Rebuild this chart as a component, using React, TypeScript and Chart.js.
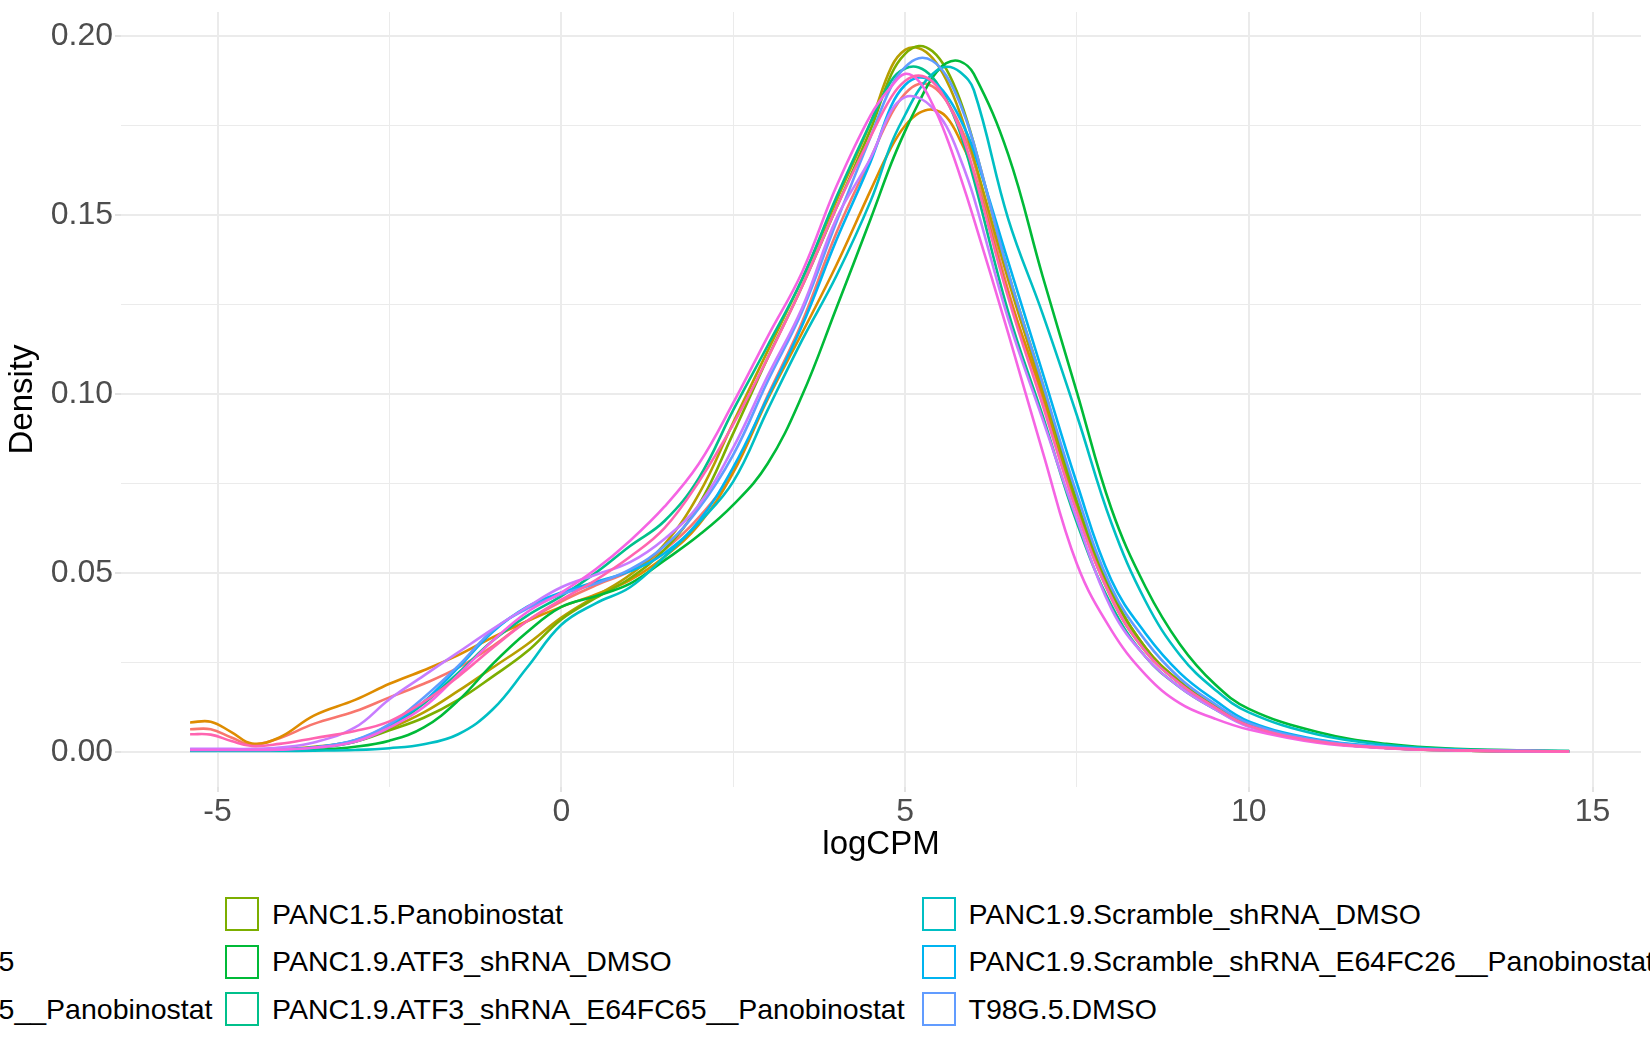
import React, { useEffect, useRef } from "react";
import { Chart, registerables } from "chart.js";

Chart.register(...registerables);

// ---- data ----
const XS = [
  -5.4, -5.1, -4.8, -4.5, -4.1, -3.6, -3.0, -2.5, -2.0, -1.5, -1.0, -0.5,
  0, 0.5, 1.0, 1.5, 2.0, 2.5, 3.0, 3.5, 4.0, 4.5,
  4.8, 5.0, 5.2, 5.4, 5.6, 5.8, 6.0,
  6.5, 7.0, 7.5, 8.0, 8.5, 9.0, 9.5, 10.0,
  11.0, 12.0, 13.0, 14.66,
];

const SERIES_NAMES = [
  "PANC1.5.DMSO",
  "PANC1.5.E64FC65",
  "PANC1.5.E64FC65__Panobinostat",
  "PANC1.5.Panobinostat",
  "PANC1.9.ATF3_shRNA_DMSO",
  "PANC1.9.ATF3_shRNA_E64FC65__Panobinostat",
  "PANC1.9.Scramble_shRNA_DMSO",
  "PANC1.9.Scramble_shRNA_E64FC26__Panobinostat",
  "T98G.5.DMSO",
  "T98G.5.E64FC65",
  "T98G.5.E64FC65__Panobinostat",
  "T98G.5.Panobinostat",
];

const SERIES_COLORS = [
  "#F8766D", "#DE8C00", "#B79F00", "#7CAE00", "#00BA38", "#00C08B",
  "#00BFC4", "#00B4F0", "#619CFF", "#C77CFF", "#F564E3", "#FF64B0",
];

const PANC1_5_DMSO = [
  0.0063, 0.0063, 0.0040, 0.0020, 0.0038, 0.0078, 0.0113, 0.0152, 0.0190, 0.0235, 0.0295, 0.0365,
  0.0420, 0.0465, 0.0505, 0.0565, 0.0655, 0.0785, 0.0995, 0.1200, 0.1450, 0.1660,
  0.1783, 0.1840, 0.1867, 0.1860, 0.1820, 0.1750, 0.1650,
  0.1290, 0.0990, 0.0680, 0.0445, 0.0290, 0.0195, 0.0128, 0.0075,
  0.0030, 0.0012, 0.0004, 0.0001,
];
const PANC1_5_E64FC65 = [
  0.0082, 0.0084, 0.0055, 0.0023, 0.0040, 0.0101, 0.0145, 0.0190, 0.0228, 0.0270, 0.0320, 0.0365,
  0.0405, 0.0440, 0.0480, 0.0545, 0.0635, 0.0780, 0.0985, 0.1170, 0.1360, 0.1570,
  0.1690, 0.1750, 0.1785, 0.1795, 0.1775, 0.1710, 0.1620,
  0.1280, 0.1000, 0.0690, 0.0450, 0.0290, 0.0195, 0.0128, 0.0075,
  0.0030, 0.0012, 0.0004, 0.0001,
];
const PANC1_5_E64FC65_PANO = [
  0.0005, 0.0005, 0.0005, 0.0005, 0.0007, 0.0014, 0.0030, 0.0065, 0.0110, 0.0170, 0.0235, 0.0300,
  0.0375, 0.0435, 0.0495, 0.0580, 0.0720, 0.0920, 0.1120, 0.1320, 0.1540, 0.1760,
  0.1914, 0.1962, 0.1967, 0.1939, 0.1878, 0.1785, 0.1660,
  0.1320, 0.1010, 0.0680, 0.0430, 0.0280, 0.0190, 0.0125, 0.0072,
  0.0028, 0.0011, 0.0004, 0.0001,
];
const PANC1_5_PANO = [
  0.0004, 0.0004, 0.0004, 0.0004, 0.0006, 0.0012, 0.0028, 0.0060, 0.0095, 0.0145, 0.0210, 0.0280,
  0.0370, 0.0430, 0.0485, 0.0565, 0.0690, 0.0890, 0.1100, 0.1300, 0.1520, 0.1740,
  0.1894, 0.1951, 0.1973, 0.1958, 0.1908, 0.1822, 0.1700,
  0.1340, 0.1030, 0.0700, 0.0450, 0.0290, 0.0195, 0.0128, 0.0074,
  0.0029, 0.0011, 0.0004, 0.0001,
];
const PANC1_9_ATF3_DMSO = [
  0.0003, 0.0003, 0.0003, 0.0003, 0.0003, 0.0005, 0.0014, 0.0031, 0.0068, 0.0143, 0.0245, 0.0334,
  0.0405, 0.0435, 0.0470, 0.0535, 0.0605, 0.0690, 0.0805, 0.0995, 0.1240, 0.1490,
  0.1645, 0.1735, 0.1815, 0.1885, 0.1925, 0.1930, 0.1895,
  0.1670, 0.1330, 0.1005, 0.0680, 0.0460, 0.0300, 0.0190, 0.0120,
  0.0055, 0.0022, 0.0008, 0.0002,
];
const PANC1_9_ATF3_E64_PANO = [
  0.0005, 0.0005, 0.0005, 0.0005, 0.0006, 0.0010, 0.0028, 0.0068, 0.0135, 0.0220, 0.0310, 0.0380,
  0.0435, 0.0500, 0.0575, 0.0645, 0.0765, 0.0955, 0.1135, 0.1320, 0.1550, 0.1760,
  0.1876, 0.1910, 0.1913, 0.1885, 0.1824, 0.1731, 0.1600,
  0.1230, 0.0940, 0.0640, 0.0410, 0.0265, 0.0180, 0.0120, 0.0072,
  0.0028, 0.0011, 0.0004, 0.0001,
];
const PANC1_9_SCR_DMSO = [
  0.0002, 0.0002, 0.0002, 0.0002, 0.0002, 0.0003, 0.0005, 0.0010, 0.0021, 0.0049, 0.0118, 0.0235,
  0.0355, 0.0415, 0.0460, 0.0545, 0.0640, 0.0755, 0.0955, 0.1150, 0.1330, 0.1540,
  0.1700, 0.1780, 0.1850, 0.1895, 0.1915, 0.1900, 0.1850,
  0.1490, 0.1225, 0.0940, 0.0640, 0.0420, 0.0270, 0.0175, 0.0110,
  0.0048, 0.0019, 0.0007, 0.0002,
];
const PANC1_9_SCR_E64_PANO = [
  0.0007, 0.0007, 0.0006, 0.0006, 0.0007, 0.0012, 0.0032, 0.0075, 0.0140, 0.0235, 0.0335, 0.0405,
  0.0445, 0.0475, 0.0505, 0.0555, 0.0645, 0.0795, 0.0990, 0.1190, 0.1430, 0.1650,
  0.1806, 0.1864, 0.1885, 0.1874, 0.1836, 0.1770, 0.1680,
  0.1370, 0.1060, 0.0750, 0.0480, 0.0330, 0.0220, 0.0145, 0.0085,
  0.0034, 0.0014, 0.0005, 0.0001,
];
const T98G_5_DMSO = [
  0.0007, 0.0007, 0.0006, 0.0006, 0.0007, 0.0012, 0.0033, 0.0077, 0.0152, 0.0240, 0.0339, 0.0400,
  0.0440, 0.0470, 0.0510, 0.0575, 0.0680, 0.0830, 0.1035, 0.1230, 0.1480, 0.1720,
  0.1860, 0.1914, 0.1939, 0.1931, 0.1890, 0.1812, 0.1700,
  0.1340, 0.1030, 0.0720, 0.0460, 0.0310, 0.0205, 0.0135, 0.0080,
  0.0032, 0.0013, 0.0005, 0.0001,
];
const T98G_5_E64FC65 = [
  0.0008, 0.0008, 0.0008, 0.0008, 0.0012, 0.0026, 0.0068, 0.0147, 0.0213, 0.0278, 0.0343, 0.0404,
  0.0460, 0.0495, 0.0530, 0.0595, 0.0690, 0.0850, 0.1050, 0.1240, 0.1490, 0.1660,
  0.1792, 0.1830, 0.1828, 0.1800, 0.1749, 0.1660, 0.1550,
  0.1210, 0.0930, 0.0650, 0.0400, 0.0265, 0.0180, 0.0120, 0.0070,
  0.0028, 0.0011, 0.0004, 0.0001,
];
const T98G_5_E64FC65_PANO = [
  0.0005, 0.0005, 0.0005, 0.0005, 0.0006, 0.0011, 0.0028, 0.0068, 0.0125, 0.0215, 0.0310, 0.0390,
  0.0445, 0.0510, 0.0590, 0.0685, 0.0805, 0.0975, 0.1160, 0.1340, 0.1580, 0.1780,
  0.1860, 0.1895, 0.1875, 0.1810, 0.1720, 0.1610, 0.1490,
  0.1170, 0.0840, 0.0525, 0.0340, 0.0215, 0.0135, 0.0093, 0.0062,
  0.0025, 0.0010, 0.0004, 0.0001,
];
const T98G_5_PANO = [
  0.0049, 0.0048, 0.0030, 0.0016, 0.0022, 0.0038, 0.0058, 0.0085, 0.0140, 0.0210, 0.0290, 0.0365,
  0.0425, 0.0480, 0.0545, 0.0625, 0.0755, 0.0915, 0.1100, 0.1300, 0.1520, 0.1720,
  0.1830, 0.1875, 0.1890, 0.1873, 0.1820, 0.1740, 0.1620,
  0.1270, 0.0970, 0.0670, 0.0430, 0.0280, 0.0190, 0.0125, 0.0073,
  0.0029, 0.0011, 0.0004, 0.0001,
];

const SERIES_VALUES = [
  PANC1_5_DMSO, PANC1_5_E64FC65, PANC1_5_E64FC65_PANO, PANC1_5_PANO,
  PANC1_9_ATF3_DMSO, PANC1_9_ATF3_E64_PANO, PANC1_9_SCR_DMSO, PANC1_9_SCR_E64_PANO,
  T98G_5_DMSO, T98G_5_E64FC65, T98G_5_E64FC65_PANO, T98G_5_PANO,
];

const X_MAJOR_TICKS = [-5, 0, 5, 10, 15];
const Y_MAJOR_TICKS = [0, 0.05, 0.1, 0.15, 0.2];

const FONT = '"Liberation Sans", Arial, Helvetica, sans-serif';

const near = (a: number, b: number) => Math.abs(a - b) < 1e-6;
const isXMajor = (v: number) => X_MAJOR_TICKS.some((t) => near(t, v));
const isYMajor = (v: number) => Y_MAJOR_TICKS.some((t) => near(t, v));

function ChartCanvas() {
  const ref = useRef<HTMLCanvasElement | null>(null);
  useEffect(() => {
    if (!ref.current) return;
    const chart = new Chart(ref.current, {
      type: "line",
      data: {
        datasets: SERIES_VALUES.map((vals, i) => ({
          label: SERIES_NAMES[i],
          data: XS.map((x, k) => ({ x, y: vals[k] })),
          borderColor: SERIES_COLORS[i],
          backgroundColor: SERIES_COLORS[i],
          borderWidth: 2.6,
          pointRadius: 0,
          fill: false,
          tension: 0.4,
          order: -i,
        })),
      },
      options: {
        animation: false,
        responsive: false,
        layout: { padding: { left: 0, right: 9, top: 12, bottom: 0 } },
        plugins: { legend: { display: false }, tooltip: { enabled: false } },
        scales: {
          x: {
            type: "linear",
            min: -6.405,
            max: 15.705,
            afterFit: (s: any) => {
              s.height = 93;
              s.paddingLeft = 0;
              s.paddingRight = 0;
            },
            border: { display: false },
            grid: {
              color: "#EBEBEB",
              lineWidth: (c: any) => (c.tick && isXMajor(c.tick.value) ? 2 : 1),
              tickColor: (c: any) =>
                c.tick && isXMajor(c.tick.value) ? "#E3E3E3" : "rgba(0,0,0,0)",
              tickLength: 5,
              drawTicks: true,
            },
            ticks: {
              stepSize: 2.5,
              includeBounds: false,
              autoSkip: false,
              maxRotation: 0,
              padding: 1,
              color: "#4D4D4D",
              font: { family: FONT, size: 32 },
              callback: (v: any) => (isXMajor(Number(v)) ? String(Number(v)) : ""),
            },
            title: {
              display: true,
              text: "logCPM",
              color: "#000000",
              font: { family: FONT, size: 33 },
              padding: { top: 0, bottom: 15 },
            },
          },
          y: {
            type: "linear",
            min: -0.00985,
            max: 0.2068,
            afterFit: (s: any) => {
              s.width = 121;
              s.paddingTop = 0;
              s.paddingBottom = 0;
            },
            border: { display: false },
            grid: {
              color: "#EBEBEB",
              lineWidth: (c: any) => (c.tick && isYMajor(c.tick.value) ? 2 : 1),
              tickColor: (c: any) =>
                c.tick && isYMajor(c.tick.value) ? "#E3E3E3" : "rgba(0,0,0,0)",
              tickLength: 6,
              drawTicks: true,
            },
            ticks: {
              stepSize: 0.025,
              includeBounds: false,
              autoSkip: false,
              padding: 2,
              color: "#4D4D4D",
              font: { family: FONT, size: 32 },
              callback: (v: any) => (isYMajor(Number(v)) ? Number(v).toFixed(2) : ""),
            },
            title: {
              display: true,
              text: "Density",
              color: "#000000",
              font: { family: FONT, size: 33 },
              padding: { top: 3, bottom: 0 },
            },
          },
        },
      },
    } as any);
    return () => chart.destroy();
  }, []);
  return (
    <canvas
      ref={ref}
      width={1650}
      height={880}
      style={{ position: "absolute", left: 0, top: 0, width: 1650, height: 880 }}
    />
  );
}

const ROW_TOP = 890.25;
const ROW_H = 47.5;

function LegendColumn({ idx }: { idx: number[] }) {
  return (
    <div style={{ display: "flex", flexDirection: "column" }}>
      {idx.map((i) => (
        <div
          key={i}
          style={{ display: "flex", alignItems: "center", height: ROW_H, whiteSpace: "nowrap" }}
        >
          <div
            style={{
              width: 34,
              height: 34,
              boxSizing: "border-box",
              border: `2px solid ${SERIES_COLORS[i]}`,
              background: "#fff",
              marginRight: 13,
              flex: "0 0 auto",
            }}
          />
          <span style={{ fontFamily: FONT, fontSize: 28.5, color: "#000" }}>
            {SERIES_NAMES[i]}
          </span>
        </div>
      ))}
    </div>
  );
}

export default function App() {
  return (
    <div
      style={{
        position: "fixed",
        left: 0,
        top: 0,
        width: 1650,
        height: 1050,
        overflow: "hidden",
        background: "#fff",
      }}
    >
      <ChartCanvas />
      <div style={{ position: "absolute", top: ROW_TOP, right: 1650 - 212.5 }}>
        <LegendColumn idx={[0, 1, 2]} />
      </div>
      <div style={{ position: "absolute", top: ROW_TOP, left: 225 }}>
        <LegendColumn idx={[3, 4, 5]} />
      </div>
      <div
        style={{
          position: "absolute",
          top: ROW_TOP,
          left: 921.5,
          display: "flex",
          gap: 13.5,
        }}
      >
        <LegendColumn idx={[6, 7, 8]} />
        <LegendColumn idx={[9, 10, 11]} />
      </div>
    </div>
  );
}
